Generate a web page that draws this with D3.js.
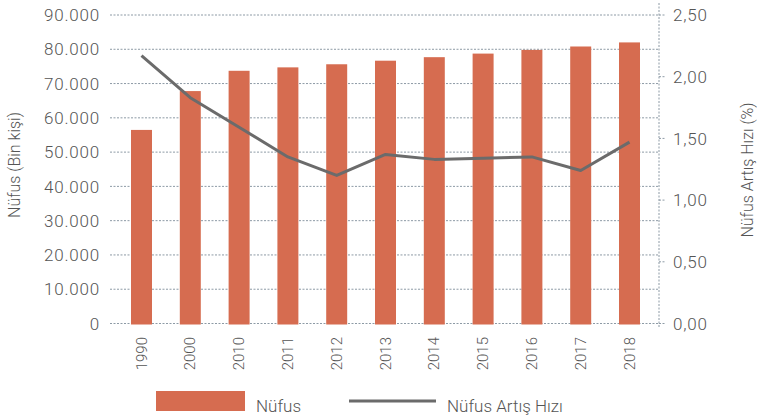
<!DOCTYPE html>
<html><head><meta charset="utf-8">
<script src="https://cdn.jsdelivr.net/npm/d3@7"></script>
<style>
body{margin:0;background:#fff;}
text{font-family:Roboto,sans-serif;font-weight:300;fill:#555;}
</style></head>
<body><svg id="c" width="757" height="419"></svg>
<script>
const years = ["1990","2000","2010","2011","2012","2013","2014","2015","2016","2017","2018"];
const population = [56473,67804,73723,74724,75627,76668,77696,78741,79815,80811,82004];
const growthRate = [2.17,1.83,1.59,1.35,1.20,1.37,1.33,1.34,1.35,1.24,1.47];
const leftTicks = [0,10000,20000,30000,40000,50000,60000,70000,80000,90000];
const rightTicks = [0,0.5,1,1.5,2,2.5];
const seriesNames = ["Nüfus","Nüfus Artış Hızı"];
const axisTitles = ["Nüfus (Bin kişi)","Nüfus Artış Hızı (%)"];

const svg = d3.select("#c");
const L = 110, R = 659, T = 15, B = 323.5;
const x = d3.scaleBand().domain(years).range([117.1,653.9]).paddingInner(0.57).paddingOuter(0.285);
const y = d3.scaleLinear().domain([0,90000]).range([B,T]);
const y2 = d3.scaleLinear().domain([0,2.5]).range([B,T]);
const fmtL = v => v===0 ? "0" : d3.format(",")(v).replace(/,/g,".");
const fmtR = v => d3.format(".2f")(v).replace(".",",");
const gridCol = "#8d9aa5";

// gridlines
svg.append("g").selectAll("line").data(leftTicks).join("line")
  .attr("x1",L).attr("x2",R).attr("y1",d=>y(d)).attr("y2",d=>y(d))
  .attr("stroke",gridCol).attr("stroke-width",1).attr("stroke-dasharray","2,1.5");

// right axis line
svg.append("line").attr("x1",R).attr("x2",R).attr("y1",3).attr("y2",327)
  .attr("stroke",gridCol).attr("stroke-width",1).attr("stroke-dasharray","2,1.5");
svg.append("g").selectAll("line").data(rightTicks).join("line")
  .attr("x1",R).attr("x2",R+6).attr("y1",d=>y2(d)).attr("y2",d=>y2(d))
  .attr("stroke",gridCol).attr("stroke-width",1).attr("stroke-dasharray","2,1.5");

// left labels
svg.append("g").selectAll("text").data(leftTicks).join("text")
  .attr("x",100).attr("y",d=>y(d)).attr("dy","0.36em").attr("text-anchor","end")
  .style("font-size","17px").style("letter-spacing","0.8px").text(fmtL);
// right labels
svg.append("g").selectAll("text").data(rightTicks).join("text")
  .attr("x",673).attr("y",d=>y2(d)).attr("dy","0.36em").attr("text-anchor","start")
  .style("font-size","17px").style("letter-spacing","0.8px").text(fmtR);

// bars
svg.append("g").selectAll("rect").data(years).join("rect")
  .attr("x",d=>x(d)).attr("width",x.bandwidth())
  .attr("y",(d,i)=>y(population[i])).attr("height",(d,i)=>B+1-y(population[i]))
  .attr("fill","#d66c50");

// line
const line = d3.line().x((d,i)=>x(years[i])+x.bandwidth()/2).y(d=>y2(d));
svg.append("path").datum(growthRate).attr("d",line)
  .attr("fill","none").attr("stroke","#6b6b6b").attr("stroke-width",3).attr("stroke-linejoin","round");

// x labels
svg.append("g").selectAll("text").data(years).join("text")
  .attr("transform",d=>`translate(${x(d)+x.bandwidth()/2+5},337) rotate(-90)`)
  .attr("text-anchor","end").style("font-size","15px").text(d=>d);

// axis titles
svg.append("text").attr("transform","translate(20,165) rotate(-90)").attr("text-anchor","middle")
  .style("font-size","16px").text(axisTitles[0]);
svg.append("text").attr("transform","translate(753,170) rotate(-90)").attr("text-anchor","middle")
  .style("font-size","16px").text(axisTitles[1]);

// legend
svg.append("rect").attr("x",156).attr("y",391).attr("width",89).attr("height",20).attr("fill","#d66c50");
svg.append("text").attr("x",256).attr("y",412).style("font-size","17px").text(seriesNames[0]);
svg.append("line").attr("x1",349).attr("x2",436).attr("y1",401).attr("y2",401).attr("stroke","#6b6b6b").attr("stroke-width",3);
svg.append("text").attr("x",447).attr("y",412).style("font-size","17px").text(seriesNames[1]);
</script></body></html>
